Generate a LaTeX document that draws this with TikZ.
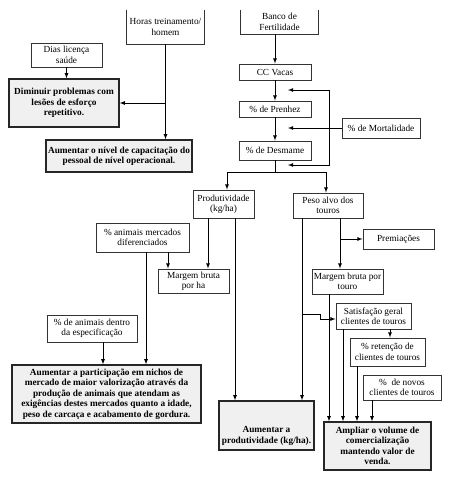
\documentclass[tikz,border=0pt]{standalone}
\usepackage{fontspec}
\setmainfont{Liberation Serif}
\usepackage{tikz}
\usetikzlibrary{positioning,arrows.meta}
\newcommand{\diagfont}{\fontsize{9.3}{10.4}\selectfont}
\tikzstyle{block} = [draw=black!80, line width=0.9pt, rectangle, align=center,
    inner sep=1pt, font=\diagfont]
\tikzstyle{goal} = [draw=black!85, fill=black!6, line width=1.3pt, rectangle,
    align=center, inner sep=1pt, font=\diagfont\bfseries]
\tikzstyle{opentop} = [rectangle, align=center, inner sep=1pt, font=\diagfont]
\tikzstyle{edge} = [draw=black!80, line width=0.9pt]
\tikzset{sz/.style 2 args={minimum width=#1pt, minimum height=#2pt}}

\begin{document}
\begin{tikzpicture}[x=1pt, y=-1pt, >=latex, line width=0.8pt]
	  \useasboundingbox (0,0) rectangle (449,477);
	  % left branch
	  \node [opentop, sz={77}{34}] (horas) at (165.5,27) {Horas treinamento/\\homem};
	  \draw [edge] (horas.north west) -- (horas.south west) -- (horas.south east) -- (horas.north east);
	  \node [block, sz={71}{24}] (dias) at (66.5,55) {Dias licença\\saúde};
	  \node [goal, sz={110}{48}] (dimin) at (64,103) {Diminuir problemas com\\lesões de esforço\\repetitivo.};
	  \node [goal, sz={146}{32}] (nivel) at (119,156) {Aumentar o nível de capacitação do\\pessoal de nível operacional.};
	  \draw [->] (dias.south) -- (dias.south |- dimin.north);
	  \draw [->] (horas.south) -- (horas.south |- nivel.north);
	  \draw [->] (horas.south |- dimin.east) -- (dimin.east);
	  % herd chain
	  \node [opentop, sz={77}{24}] (banco) at (279.5,22) {Banco de\\Fertilidade};
	  \draw [edge] (banco.north west) -- (banco.south west) -- (banco.south east) -- (banco.north east);
	  \node [block, sz={72}{16}] (ccvacas) at (275,72) {CC Vacas};
	  \node [block, sz={72}{16}] (prenhez) at (275,109) {\% de Prenhez};
	  \node [block, sz={72}{19}] (desmame) at (275,150.5) {\% de Desmame};
	  \node [block, sz={78}{20}] (mortal) at (381,128) {\% de Mortalidade};
	  \draw [->] (banco.south -| ccvacas.north) -- (ccvacas.north);
	  \draw [->] (ccvacas) -- (prenhez);
	  \draw [->] (prenhez) -- (desmame);
	  \coordinate (fbtop) at (288,90);
	  \coordinate (fbbot) at (288,165);
	  \draw [<->] (fbtop) -- ++(41,0) |- (fbbot);
	  \draw [->] (mortal.west) -- (fbtop |- mortal.west);
	  \draw (desmame.south) -- ++(0,12) coordinate (split);
	  % middle level
	  \node [block, sz={61}{28}] (produt) at (223.5,204) {Produtividade\\(kg/ha)};
	  \node [block, sz={70}{25}] (peso) at (328,205.5) {Peso alvo dos\\touros};
	  \draw [->] (split) -| ([xshift=3.5pt]produt.north);
	  \draw [->] (split) -| ([xshift=-2pt]peso.north);
	  \node [block, sz={93}{29}] (mercados) at (142.5,237.5) {\% animais mercados\\diferenciados};
	  \node [block, sz={71}{24}] (mbha) at (193.5,281) {Margem bruta\\por ha};
	  \node [block, sz={90}{27}] (especif) at (92,328.5) {\% de animais dentro\\da especificação};
	  \node [block, sz={71}{20}] (premios) at (398.5,239) {Premiações};
	  \node [block, sz={71}{25}] (mbtouro) at (347.5,281.5) {Margem bruta por\\touro};
	  \node [block, sz={75}{26}] (satisf) at (373.5,316) {Satisfação geral\\clientes de touros};
	  \node [block, sz={75}{28}] (retencao) at (387.5,352) {\% retenção de\\clientes de touros};
	  \node [block, sz={78}{25}] (novos) at (402,387.5) {\%\ \ de novos\\clientes de touros};
	  % goals
	  \node [goal, sz={189}{58}] (particip) at (106.5,394) {Aumentar a participação em nichos de\\mercado de maior valorização através da\\produção de animais que atendam as\\exigências destes mercados quanto a idade,\\peso de carcaça e acabamento de gordura.};
	  \node [goal, sz={95}{49}] (aumprod) at (266.5,425.5) {};
	  \node [opentop, font=\diagfont\bfseries] (aumprodtext) at ([yshift=-10.5pt]aumprod.center) {Aumentar a\\produtividade (kg/ha).};
	  \node [goal, sz={107}{48}] (ampliar) at (377.5,446) {Ampliar o volume de\\comercialização\\mantendo valor de\\venda.};
	  % connectors
	  \draw [->] ([xshift=-15.5pt]produt.south) -- ([xshift=-15.5pt]produt.south |- mbha.north);
	  \draw [->] ([xshift=11.5pt]produt.south) -- ([xshift=11.5pt]produt.south |- aumprod.north);
	  \draw [->] ([xshift=25.5pt]mercados.south) -- ([xshift=25.5pt]mercados.south |- mbha.north);
	  \draw [->] ([xshift=3.5pt]mercados.south) -- ([xshift=3.5pt]mercados.south |- particip.north);
	  \draw [->] ([xshift=11pt]especif.south) -- ([xshift=11pt]especif.south |- particip.north);
	  \coordinate (pr) at ([xshift=12pt]peso.south);
	  \coordinate (pl) at ([xshift=-26pt]peso.south);
	  \draw [->] (pr) -- (pr |- mbtouro.north);
	  \draw [->] (pr |- premios.west) -- (premios.west);
	  \draw [->] (pl) -- (pl |- aumprod.north);
	  \draw [->] ([yshift=2pt]pl |- satisf.west) -- ++(18,0) |- ([yshift=-3pt]satisf.west);
	  \draw [->] ([xshift=-18.5pt]mbtouro.south) -- ([xshift=-18.5pt]mbtouro.south |- ampliar.north);
	  \draw [->] ([xshift=-30.5pt]satisf.south) -- ([xshift=-30.5pt]satisf.south |- ampliar.north);
	  \draw [->] ([xshift=16.5pt]satisf.south) -- ([xshift=16.5pt]satisf.south |- retencao.north);
	  \draw [->] ([xshift=-30.5pt]retencao.south) -- ([xshift=-30.5pt]retencao.south |- ampliar.north);
	  \draw [->] ([xshift=-30pt]novos.south) -- ([xshift=-30pt]novos.south |- ampliar.north);
	\end{tikzpicture}
\end{document}
